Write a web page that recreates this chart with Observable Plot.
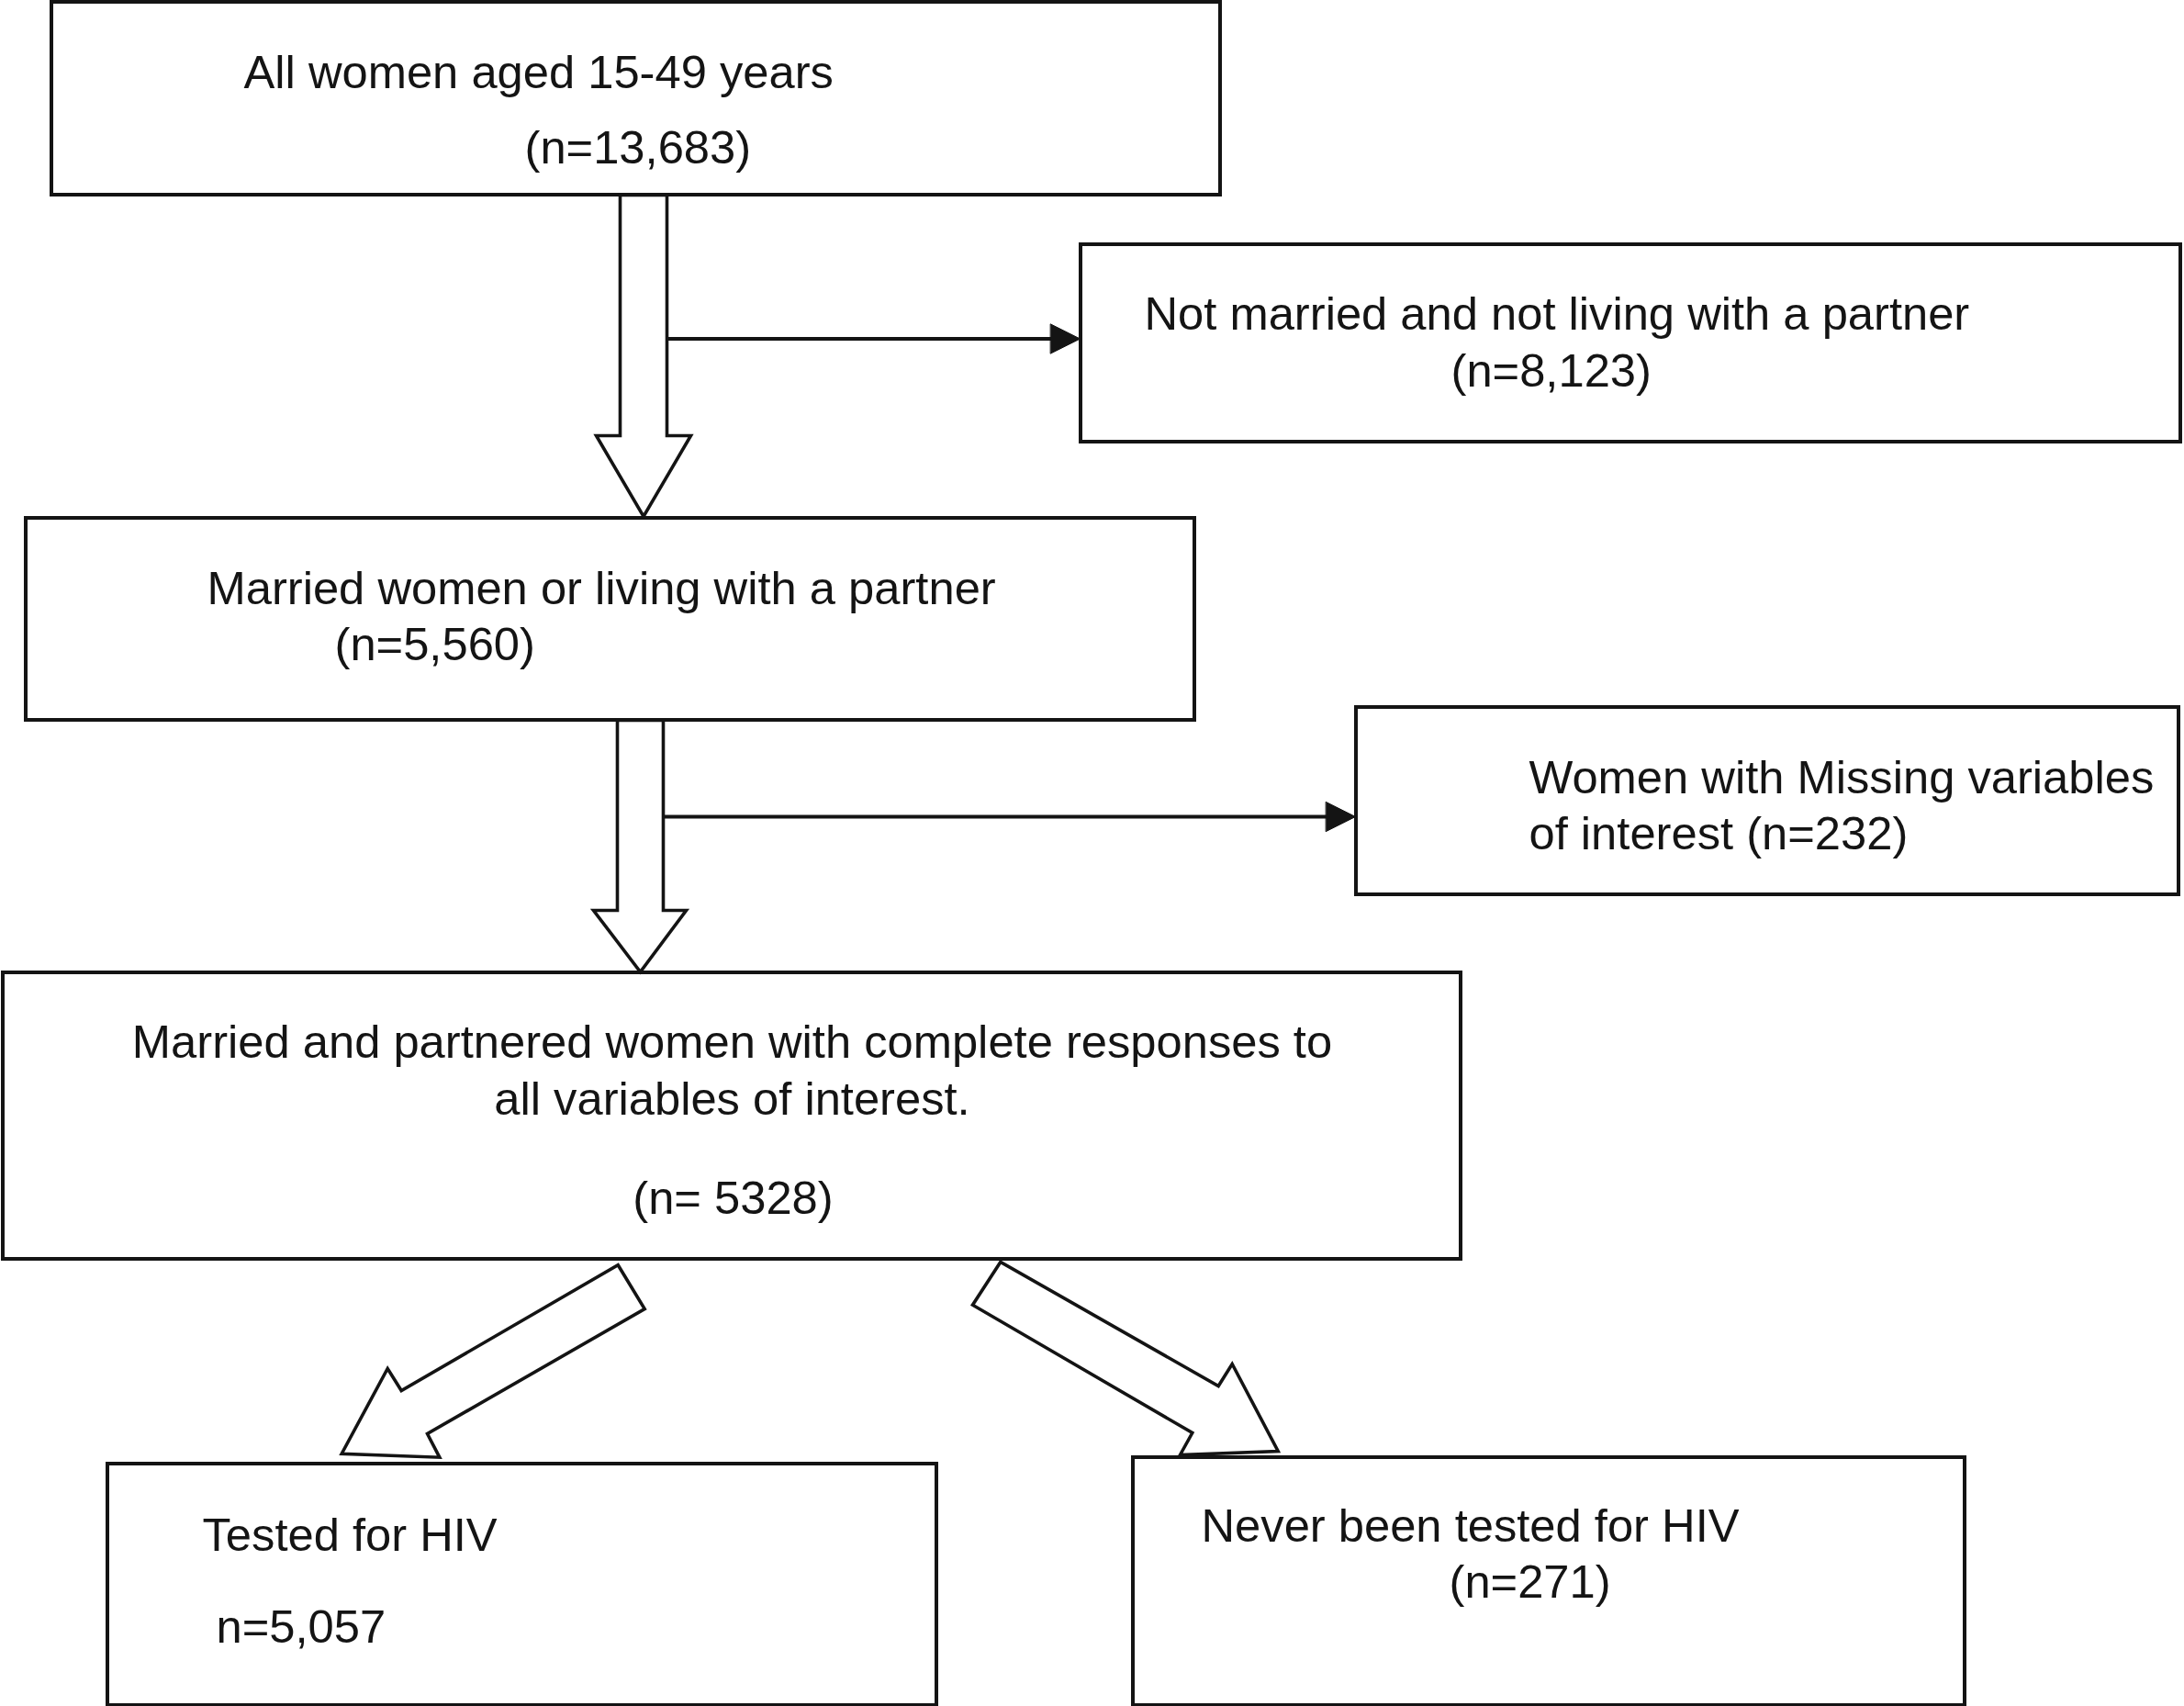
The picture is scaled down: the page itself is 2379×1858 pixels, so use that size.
<!DOCTYPE html>
<html>
<head>
<meta charset="utf-8">
<script src="https://cdn.jsdelivr.net/npm/d3@7"></script>
<script src="https://cdn.jsdelivr.net/npm/@observablehq/plot@0.6"></script>
<style>
  html, body { margin: 0; padding: 0; background: #fff; }
  svg { display: block; }
</style>
</head>
<body>
<div id="chart"></div>
<script>
// ---- Data: flowchart stages and their text ----
const stageIds = ["all", "unpartnered", "partnered", "missing", "complete", "tested", "never"];
const stageCounts = [13683, 8123, 5560, 232, 5328, 5057, 271];
const lineTexts = [
  "All women aged 15-49 years",
  "(n=13,683)",
  "Not married and not living with a partner",
  "(n=8,123)",
  "Married women or living with a partner",
  "(n=5,560)",
  "Women with Missing variables",
  "of interest (n=232)",
  "Married and partnered women with complete responses to",
  "all variables of interest.",
  "(n= 5328)",
  "Tested for HIV",
  "n=5,057",
  "Never been tested for HIV",
  "(n=271)"
];
const lineStage = ["all","all","unpartnered","unpartnered","partnered","partnered","missing","missing",
  "complete","complete","complete","tested","tested","never","never"];

// ---- Layout (diagram geometry, pixel units) ----
const W = 2379, H = 1858;
const boxGeom = [
  [56, 1329, 2, 212],
  [1177, 2375, 266, 481],
  [28, 1301, 564, 784],
  [1477, 2373, 770, 974],
  [3, 1591, 1059, 1371],
  [117, 1020, 1594, 1857],
  [1234, 2140, 1587, 1857]
];
const linePos = [
  [265, 95, "start"], [571, 177, "start"],
  [1246, 358, "start"], [1580, 420, "start"],
  [225, 657, "start"], [364, 718, "start"],
  [1665, 863, "start"], [1665, 924, "start"],
  [797, 1151, "middle"], [797, 1213, "middle"], [798, 1321, "middle"],
  [220, 1688, "start"], [235, 1788, "start"],
  [1308, 1678, "start"], [1578, 1739, "start"]
];
// hollow block arrows (outlines)
const blockArrows = [
  {id: "down1", pts: [[675,212],[726,212],[726,474],[752,474],[700.5,562],[649,474],[675,474]]},
  {id: "down2", pts: [[672,784],[722,784],[722,991],[747,991],[697,1058],[646,991],[672,991]]},
  {id: "left",  pts: [[672.7,1377.3],[701.7,1425],[465,1561],[478.3,1586.7],[371.7,1582.7],[421.7,1490],[436.7,1514]]},
  {id: "right", pts: [[1089.3,1374],[1059,1420.7],[1298.3,1560],[1285,1584],[1391.7,1580],[1341.7,1485],[1326.7,1509]]}
];
// exclusion connectors: line + filled triangular head
const connectors = [
  {x1: 726, x2: 1146, y: 368.5, tip: 1176},
  {x1: 722, x2: 1446, y: 889, tip: 1476}
];

// ---- Build tables ----
const boxes = stageIds.map((id, i) => ({
  id, n: stageCounts[i],
  x1: boxGeom[i][0], x2: boxGeom[i][1], y1: boxGeom[i][2], y2: boxGeom[i][3]
}));
const texts = lineTexts.map((t, i) => ({
  text: t, stage: lineStage[i], x: linePos[i][0], y: linePos[i][1], anchor: linePos[i][2]
}));
const arrowPts = blockArrows.flatMap(a => a.pts.map(([x, y]) => ({id: a.id, x, y})));
const heads = connectors.flatMap((c, i) => [
  {id: "h" + i, x: c.x2 - 2, y: c.y - 16},
  {id: "h" + i, x: c.tip, y: c.y},
  {id: "h" + i, x: c.x2 - 2, y: c.y + 16}
]);

const font = "'Liberation Sans', Arial, Helvetica, sans-serif";
const ink = "#141414";

const chart = Plot.plot({
  width: W,
  height: H,
  margin: 0,
  x: {domain: [0, W], axis: null},
  y: {domain: [H, 0], axis: null},
  style: {background: "#fff", fontFamily: font, color: ink},
  marks: [
    Plot.rect(boxes, {x1: "x1", x2: "x2", y1: "y1", y2: "y2", fill: "white", stroke: ink, strokeWidth: 4}),
    Plot.link(connectors, {x1: "x1", x2: "x2", y1: "y", y2: "y", stroke: ink, strokeWidth: 3.8}),
    Plot.line(heads, {x: "x", y: "y", z: "id", curve: "linear-closed", fill: ink, stroke: ink, strokeWidth: 1, strokeLinejoin: "miter"}),
    Plot.line(arrowPts, {x: "x", y: "y", z: "id", curve: "linear-closed", fill: "white", stroke: ink, strokeWidth: 3.6, strokeLinejoin: "miter", strokeMiterlimit: 10}),
    Plot.text(texts.filter(d => d.anchor === "start"), {x: "x", y: "y", text: "text", textAnchor: "start", lineAnchor: "bottom", fontSize: 50.7, fill: ink, fontFamily: font}),
    Plot.text(texts.filter(d => d.anchor === "middle"), {x: "x", y: "y", text: "text", textAnchor: "middle", lineAnchor: "bottom", fontSize: 50.7, fill: ink, fontFamily: font})
  ]
});
document.getElementById("chart").appendChild(chart);
</script>
</body>
</html>
